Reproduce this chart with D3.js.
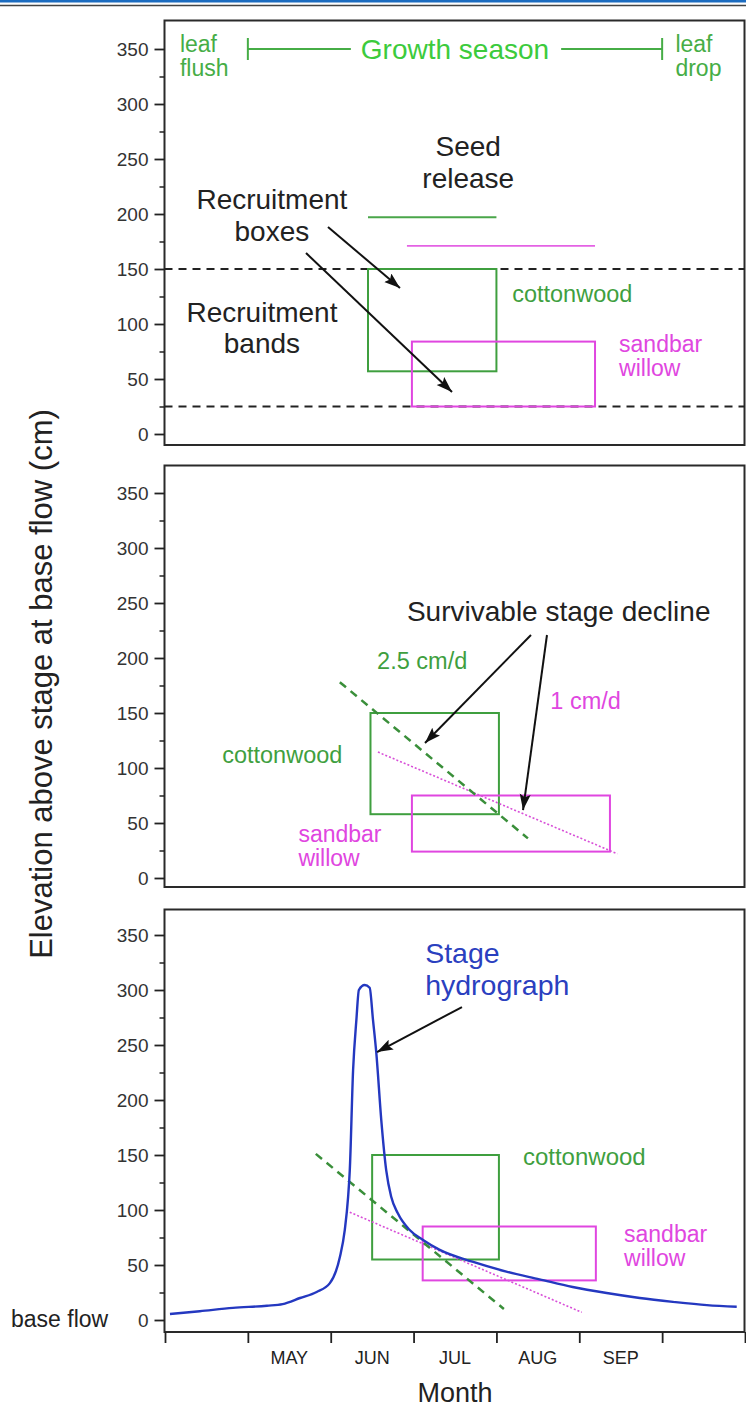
<!DOCTYPE html>
<html><head><meta charset="utf-8">
<script src="https://cdn.jsdelivr.net/npm/d3@7"></script>
<style>
body{margin:0;background:#fff}
svg{display:block}
text{font-family:"Liberation Sans",Arial,Helvetica,sans-serif}
</style>
</head><body>
<svg id="chart" width="746" height="1411"></svg>
<script>
// ---------------- DATA ----------------
const monthTicks = [4, 5, 6, 7, 8, 9, 10, 11];          // month boundaries (Apr 1 ... Nov 1)
const monthLabels = ["MAY", "JUN", "JUL", "AUG", "SEP"];
const monthLabelPos = [5.5, 6.5, 7.5, 8.5, 9.5];
const yTicks = [0, 50, 100, 150, 200, 250, 300, 350];
const yMinorTicks = [25, 75, 125, 175, 225, 275, 325];

const growthSeason = [5.0, 10.0];          // months, drawn at 350 cm
const growthLevel = 350;
const seedCottonwood = [6.45, 8.0, 197];   // x0, x1, level
const seedWillow = [6.92, 9.19, 171];
const recruitmentBands = [150, 25];

// boxes: [x0, x1, y0, y1] for top, middle, bottom panels
const cottonwoodBoxes = [[6.45, 8.0, 57, 150], [6.48, 8.03, 58, 150], [6.5, 8.03, 55, 150]];
const willowBoxes = [[6.98, 9.19, 25, 84], [6.98, 9.37, 24, 75], [7.11, 9.2, 36, 85]];

// survivable stage decline lines: [[x0,y0],[x1,y1]] for middle and bottom panels
const cottonwoodDecline = [[[6.11, 178], [8.38, 36]], [[5.82, 151], [8.09, 10]]];
const willowDecline = [[[6.57, 114.5], [9.46, 22]], [[6.23, 98], [9.03, 7]]];

// stage hydrograph
const hydroMonth = [4.06, 4.42, 4.82, 5.23, 5.42, 5.63, 5.83, 5.99, 6.11, 6.17, 6.21, 6.23, 6.27, 6.31, 6.34, 6.41,
  6.47, 6.51, 6.55, 6.61, 6.67, 6.73, 6.81, 6.95, 7.11, 7.31, 7.71, 8.12, 8.52, 8.92, 9.33, 9.73, 10.13, 10.54, 10.90];
const hydroStage = [5.5, 8, 11, 13, 14.5, 20, 25.5, 33.5, 57, 82, 112, 136, 227, 273, 300, 304.5,
  302, 273, 243, 182, 136, 112, 97, 82, 73, 64, 53, 44, 37, 30, 24.5, 20, 16.5, 13.5, 12];

// ---------------- LAYOUT ----------------
const svg = d3.select("#chart");
const FONT = '"Liberation Sans",Arial,Helvetica,sans-serif';
const left = 164.5, right = 744.5;
const panels = [
  {top: 20.5, bottom: 445, zero: 434},
  {top: 465.5, bottom: 887, zero: 878},
  {top: 909.5, bottom: 1332, zero: 1320}
];
const GREEN = "#3f9f3f", LGREEN = "#3ccb3c", MAG = "#e046e0", BLUE = "#2438c0", INK = "#222";

const x = d3.scaleLinear().domain([4, 11]).range([165, 745]);
const yScales = panels.map(p => d3.scaleLinear().domain([0, 350]).range([p.zero, p.zero - 385]));

// page frame lines
svg.append("rect").attr("x", 0).attr("y", 0).attr("width", 746).attr("height", 2.5).attr("fill", "#1c6cc0");
svg.append("line").attr("x1", 0).attr("x2", 746).attr("y1", 5.5).attr("y2", 5.5).attr("stroke", "#444").attr("stroke-width", 1.5);

// arrow marker
const defs = svg.append("defs");
defs.append("marker").attr("id", "ah").attr("markerUnits", "userSpaceOnUse")
  .attr("markerWidth", 17).attr("markerHeight", 12).attr("refX", 16).attr("refY", 5.5)
  .attr("orient", "auto")
  .append("path").attr("d", "M0,0 L16,5.5 L0,11 L3,5.5 Z").attr("fill", "#111");

panels.forEach((p, i) => {
  const y = yScales[i];
  const g = svg.append("g");
  g.append("rect").attr("x", left).attr("y", p.top).attr("width", right - left).attr("height", p.bottom - p.top)
    .attr("fill", "none").attr("stroke", "#2a2a2a").attr("stroke-width", 2);
  const ax = g.append("g").attr("transform", `translate(${left},0)`)
    .call(d3.axisLeft(y).tickValues(yTicks).tickSize(10).tickPadding(6).tickFormat(d3.format("d")));
  ax.select(".domain").remove();
  ax.selectAll(".tick line").attr("stroke", "#222").attr("stroke-width", 1.8);
  ax.selectAll(".tick text").attr("font-family", FONT).attr("font-size", 19).attr("fill", "#333");
  const ax2 = g.append("g").attr("transform", `translate(${left},0)`)
    .call(d3.axisLeft(y).tickValues(yMinorTicks).tickSize(5).tickFormat(""));
  ax2.select(".domain").remove();
  ax2.selectAll(".tick line").attr("stroke", "#222").attr("stroke-width", 1.5);
});

function label(panel, lines, xv, yv, opts) {
  const y = yScales[panel];
  const t = svg.append("text").attr("x", x(xv)).attr("y", y(yv))
    .attr("font-family", FONT).attr("font-size", opts.size).attr("fill", opts.color || INK)
    .attr("text-anchor", opts.anchor || "start");
  lines.forEach((s, k) => t.append("tspan").attr("x", x(xv)).attr("dy", k === 0 ? 0 : opts.lh).text(s));
}
function arrow(panel, a, b) {
  const y = yScales[panel];
  svg.append("line").attr("x1", x(a[0])).attr("y1", y(a[1])).attr("x2", x(b[0])).attr("y2", y(b[1]))
    .attr("stroke", "#111").attr("stroke-width", 2).attr("marker-end", "url(#ah)");
}
function box(panel, b, color) {
  const y = yScales[panel];
  svg.append("rect").attr("x", x(b[0])).attr("y", y(b[3])).attr("width", x(b[1]) - x(b[0]))
    .attr("height", y(b[2]) - y(b[3])).attr("fill", "none").attr("stroke", color).attr("stroke-width", 2);
}

// ---------- TOP PANEL ----------
{
  const y = yScales[0];
  recruitmentBands.forEach(v => {
    svg.append("line").attr("x1", left).attr("x2", right).attr("y1", y(v)).attr("y2", y(v))
      .attr("stroke", "#222").attr("stroke-width", 2).attr("stroke-dasharray", "8,6");
  });
  const gy = y(growthLevel);
  const gx0 = x(growthSeason[0]), gx1 = x(growthSeason[1]);
  svg.append("line").attr("x1", gx0).attr("x2", gx0 + 103).attr("y1", gy).attr("y2", gy).attr("stroke", "#46ad46").attr("stroke-width", 2);
  svg.append("line").attr("x1", gx1 - 101).attr("x2", gx1).attr("y1", gy).attr("y2", gy).attr("stroke", "#46ad46").attr("stroke-width", 2);
  [gx0, gx1].forEach(gxv => svg.append("line").attr("x1", gxv).attr("x2", gxv).attr("y1", gy - 11).attr("y2", gy + 11)
    .attr("stroke", "#46ad46").attr("stroke-width", 2));
  svg.append("text").attr("x", (gx0 + gx1) / 2).attr("y", gy + 10).attr("text-anchor", "middle")
    .attr("font-family", FONT).attr("font-size", 28).attr("fill", LGREEN).text("Growth season");
  label(0, ["leaf", "flush"], 4.18, 347, {size: 23, color: "#46ad46", lh: 24});
  label(0, ["leaf", "drop"], 10.16, 347, {size: 23, color: "#46ad46", lh: 24});
  svg.append("line").attr("x1", x(seedCottonwood[0])).attr("x2", x(seedCottonwood[1]))
    .attr("y1", y(seedCottonwood[2])).attr("y2", y(seedCottonwood[2])).attr("stroke", "#4aa64a").attr("stroke-width", 2);
  svg.append("line").attr("x1", x(seedWillow[0])).attr("x2", x(seedWillow[1]))
    .attr("y1", y(seedWillow[2])).attr("y2", y(seedWillow[2])).attr("stroke", "#e462e4").attr("stroke-width", 1.6);
  box(0, cottonwoodBoxes[0], GREEN);
  box(0, willowBoxes[0], MAG);
  label(0, ["Seed", "release"], 7.66, 253, {size: 28, anchor: "middle", lh: 32});
  label(0, ["Recruitment", "boxes"], 5.29, 205, {size: 28, anchor: "middle", lh: 32});
  label(0, ["Recruitment", "bands"], 5.17, 102, {size: 28, anchor: "middle", lh: 31});
  label(0, ["cottonwood"], 8.19, 120, {size: 23.5, color: GREEN});
  label(0, ["sandbar", "willow"], 9.48, 75, {size: 23, color: MAG, lh: 24});
  arrow(0, [5.967, 188.2], [6.836, 132.7]);
  arrow(0, [5.702, 164.5], [7.464, 38.2]);
}

// ---------- MIDDLE PANEL ----------
{
  const y = yScales[1];
  box(1, cottonwoodBoxes[1], GREEN);
  box(1, willowBoxes[1], MAG);
  const ln = d3.line().x(d => x(d[0])).y(d => y(d[1]));
  svg.append("path").attr("d", ln(willowDecline[0])).attr("fill", "none").attr("stroke", "#d84fd8")
    .attr("stroke-width", 1.6).attr("stroke-dasharray", "2,2");
  svg.append("path").attr("d", ln(cottonwoodDecline[0])).attr("fill", "none").attr("stroke", "#3a8f3a")
    .attr("stroke-width", 2.5).attr("stroke-dasharray", "8,6");
  label(1, ["Survivable stage decline"], 6.92, 234, {size: 28});
  label(1, ["2.5 cm/d"], 6.56, 190, {size: 23.5, color: GREEN});
  label(1, ["1 cm/d"], 8.65, 154, {size: 23.5, color: MAG});
  label(1, ["cottonwood"], 4.69, 105, {size: 23.5, color: GREEN});
  label(1, ["sandbar", "willow"], 5.61, 33, {size: 23, color: MAG, lh: 24});
  arrow(1, [8.417, 220.9], [7.138, 122.7]);
  arrow(1, [8.61, 220.9], [8.321, 61.8]);
}

// ---------- BOTTOM PANEL ----------
{
  const y = yScales[2];
  box(2, cottonwoodBoxes[2], GREEN);
  box(2, willowBoxes[2], MAG);
  const ln = d3.line().x(d => x(d[0])).y(d => y(d[1]));
  svg.append("path").attr("d", ln(willowDecline[1])).attr("fill", "none").attr("stroke", "#d84fd8")
    .attr("stroke-width", 1.6).attr("stroke-dasharray", "2,2");
  svg.append("path").attr("d", ln(cottonwoodDecline[1])).attr("fill", "none").attr("stroke", "#3a8f3a")
    .attr("stroke-width", 2.5).attr("stroke-dasharray", "8,6");
  const hydro = hydroMonth.map((m, k) => [m, hydroStage[k]]);
  svg.append("path").attr("d", d3.line().x(d => x(d[0])).y(d => y(d[1])).curve(d3.curveMonotoneX)(hydro))
    .attr("fill", "none").attr("stroke", BLUE).attr("stroke-width", 2.4);
  label(2, ["Stage", "hydrograph"], 7.14, 325, {size: 28.5, color: "#2a40bf", lh: 32});
  label(2, ["cottonwood"], 8.32, 141, {size: 24, color: GREEN});
  label(2, ["sandbar", "willow"], 9.54, 71, {size: 23, color: MAG, lh: 24});
  arrow(2, [7.584, 284.5], [6.559, 243.6]);

  const xa = svg.append("g").attr("transform", `translate(0,${panels[2].bottom})`)
    .call(d3.axisBottom(x).tickValues(monthTicks).tickSize(11).tickFormat(""));
  xa.select(".domain").remove();
  xa.selectAll(".tick line").attr("stroke", "#222").attr("stroke-width", 1.8);
  svg.append("g").selectAll("text").data(monthLabels).join("text")
    .attr("x", (d, k) => x(monthLabelPos[k])).attr("y", 1364).attr("text-anchor", "middle")
    .attr("font-family", FONT).attr("font-size", 18).attr("fill", "#222").text(d => d);
  svg.append("text").attr("x", 455).attr("y", 1402).attr("text-anchor", "middle")
    .attr("font-family", FONT).attr("font-size", 27).attr("fill", "#222").text("Month");
  svg.append("text").attr("x", 11).attr("y", 1327)
    .attr("font-family", FONT).attr("font-size", 23).attr("fill", "#222").text("base flow");
}

// y-axis title
svg.append("text").attr("transform", "translate(52,684) rotate(-90)").attr("text-anchor", "middle")
  .attr("font-family", FONT).attr("font-size", 31).attr("fill", "#222")
  .text("Elevation above stage at base flow (cm)");
</script>
</body></html>
